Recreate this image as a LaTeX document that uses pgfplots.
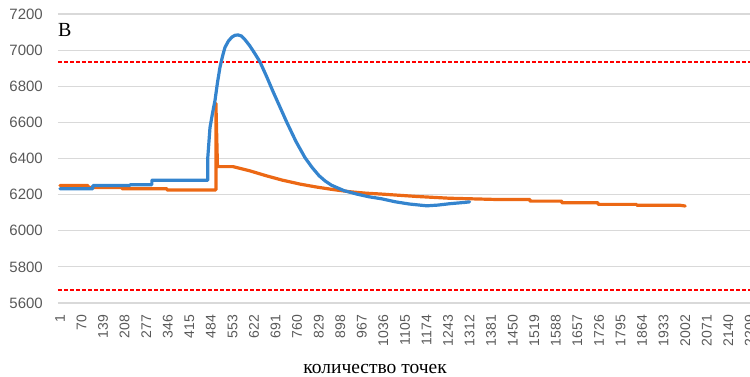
\documentclass[border=0pt]{standalone}
\usepackage{pgfplots}
\pgfplotsset{compat=1.18}
\usepackage{fontspec}
\setmainfont{Liberation Serif}
\newfontfamily\tickfont{Liberation Sans}
\definecolor{xlblue}{RGB}{52,132,206}
\definecolor{xlorange}{RGB}{236,104,20}
\definecolor{gridgray}{RGB}{217,217,217}
\definecolor{ticktext}{RGB}{89,89,89}
\begin{document}
\begin{tikzpicture}
\begin{axis}[
  at={(0,0)}, anchor=south west,
  scale only axis, width=693.75pt, height=289pt,
  xmin=-5.4, xmax=2215, ymin=5600, ymax=7200,
  xtick={1,70,...,2209}, ytick={5600,5800,...,7200},
  scaled ticks=false,
  /pgf/number format/1000 sep={},
  /pgf/number format/assume math mode=true,
  ymajorgrids, grid style={color=gridgray, line width=1.2pt},
  axis line style={draw=none}, major tick length=0pt,
  yticklabel style={font=\tickfont\fontsize{15}{15}\selectfont, text=ticktext, anchor=east, inner sep=0pt, xshift=-15pt},
  xticklabel style={font=\tickfont\fontsize{14}{14}\selectfont, text=ticktext, yshift=-12pt, rotate=90, anchor=east, inner sep=0pt},
  clip=false,
]
\addplot[red, line width=1.4pt, dash pattern=on 4pt off 2pt] coordinates {(-5.4,6935) (2215,6935)};
\addplot[red, line width=1.4pt, dash pattern=on 4pt off 2pt] coordinates {(-5.4,5672) (2215,5672)};
\addplot[xlorange, line width=3.2pt, line join=round, line cap=round] coordinates {
(1,6250) (91,6250) (91,6239) (199,6239) (199,6233) (343,6233) (343,6226) (500,6226) (500,6705) (505,6355) (555,6355) (608,6332) (660,6305) (713,6280) (770,6258) (822,6242) (875,6228) (928,6216) (980,6208) (1030,6203) (1141,6190) (1247,6180) (1400,6173) (1505,6173) (1505,6164) (1607,6164) (1607,6155) (1723,6155) (1723,6146) (1847,6146) (1847,6141) (1985,6141) (2002,6137)
};
\addplot[xlblue, line width=3.2pt, line join=round, line cap=round] coordinates {
(1,6233) (106,6233) (106,6250) (225,6250) (225,6255) (295,6255) (295,6280) (474,6280) (474,6405) (481,6570) (489,6650) (497,6720) (505,6820) (513,6905) (521,6965) (529,7015) (540,7050) (551,7072) (561,7082) (571,7084) (582,7078) (593,7058) (608,7025) (625,6980) (641,6935) (662,6855) (683,6770) (705,6685) (727,6600) (756,6495) (785,6405) (808,6350) (830,6305) (850,6275) (870,6252) (910,6222) (951,6203) (990,6188) (1030,6177) (1075,6160) (1119,6148) (1175,6138) (1210,6142) (1250,6150) (1297,6157) (1312,6160)
};
\node[anchor=north west, inner sep=0pt, font=\fontsize{20}{20}\selectfont] at ([xshift=0pt,yshift=-9pt]rel axis cs:0,1) {В};
\node[anchor=center, inner sep=0pt, font=\fontsize{19.5}{19.5}\selectfont] at ([yshift=-66pt]rel axis cs:0.457,0) {количество точек};
\end{axis}
\pgfresetboundingbox
\path (-58pt,-74pt) rectangle (692pt,303pt);
\end{tikzpicture}
\end{document}
